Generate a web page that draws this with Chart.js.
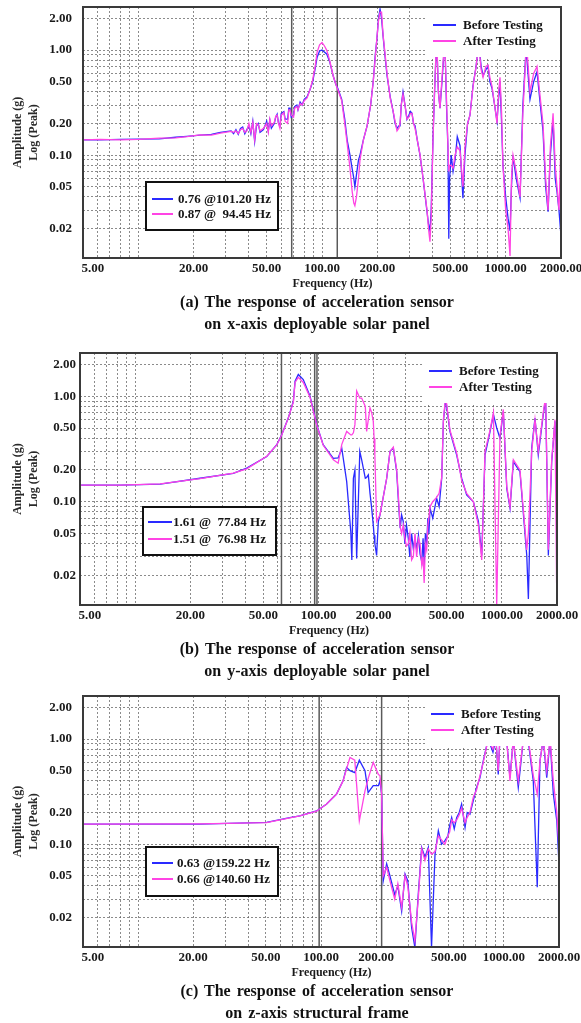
<!DOCTYPE html>
<html>
<head>
<meta charset="utf-8">
<script src="https://cdn.jsdelivr.net/npm/chart.js@4.4.1/dist/chart.umd.min.js"></script>
<style>
  html, body { margin: 0; padding: 0; background: #fff; }
  body { width: 581px; height: 1023px; position: relative; overflow: hidden; }
  canvas { position: absolute; left: 0; }
  .cap { position: absolute; left: 117px; width: 400px; text-align: center; font: bold 16px "Liberation Serif", serif; color: #111; word-spacing: 2px; white-space: nowrap; line-height: 20px; }
</style>
</head>
<body>
<canvas id="cA" width="581" height="295" style="top:0px"></canvas>
<div class="cap" style="top:292px">(a) The response of acceleration sensor</div>
<div class="cap" style="top:314px">on x-axis deployable solar panel</div>
<canvas id="cB" width="581" height="296" style="top:346px"></canvas>
<div class="cap" style="top:639px">(b) The response of acceleration sensor</div>
<div class="cap" style="top:661px">on y-axis deployable solar panel</div>
<canvas id="cC" width="581" height="295" style="top:689px"></canvas>
<div class="cap" style="top:981px">(c) The response of acceleration sensor</div>
<div class="cap" style="top:1003px">on z-axis structural frame</div>
<script>
/* frequency response, before / after testing (log-log) */

var xLabels = [5, 20, 50, 100, 200, 500, 1000, 2000];
var yLabels = [0.02, 0.05, 0.1, 0.2, 0.5, 1, 2];
var seriesNames = ["Before Testing", "After Testing"];

// (a) x-axis solar panel
var freqA = [5, 6.2, 8, 10, 13, 16, 18.4, 21.7, 25, 28,
  32, 33, 34, 35, 36, 37, 38, 39, 40, 41,
  42, 43, 44, 45, 46, 48, 50, 51, 52, 53,
  55, 56, 57, 58, 59, 60, 62, 63, 65, 66,
  67, 68, 70, 71, 73, 74, 76, 78, 80, 83,
  86, 89, 92, 94, 97, 100, 103, 106, 110, 115,
  119, 122, 128, 133, 137, 142, 146, 149, 151, 154,
  158, 161, 168, 176, 184, 190, 195, 199, 203, 207,
  211, 215, 220, 226, 235, 244, 250, 256, 262, 266,
  270, 276, 283, 290, 297, 303, 309, 315, 321, 330,
  342, 355, 373, 380, 387, 393, 402, 410, 418, 423,
  430, 439, 450, 462, 468, 476, 485, 490, 495, 505,
  517, 530, 545, 564, 585, 600, 620, 639, 664, 690,
  706, 720, 735, 753, 780, 801, 820, 843, 870, 897,
  915, 931, 950, 966, 1000, 1030, 1056, 1075, 1096, 1140,
  1197, 1240, 1290, 1306, 1356, 1420, 1481, 1530, 1596, 1650,
  1701, 1750, 1811, 1860, 1902, 1950, 1990, 2000];
var beforeA = [0.14, 0.14, 0.141, 0.142, 0.143, 0.148, 0.151, 0.155, 0.158, 0.165,
  0.17, 0.16, 0.175, 0.158, 0.18, 0.185, 0.16, 0.175, 0.19, 0.16,
  0.21, 0.135, 0.19, 0.2, 0.165, 0.175, 0.21, 0.17, 0.215, 0.18,
  0.2, 0.23, 0.245, 0.2, 0.19, 0.25, 0.26, 0.22, 0.22, 0.28,
  0.28, 0.23, 0.24, 0.29, 0.3, 0.27, 0.32, 0.3, 0.34, 0.36,
  0.42, 0.5, 0.68, 0.85, 0.98, 1.0, 0.96, 0.92, 0.78, 0.57,
  0.47, 0.43, 0.34, 0.22, 0.14, 0.1, 0.074, 0.06, 0.05, 0.065,
  0.09, 0.1, 0.14, 0.19, 0.3, 0.5, 0.9, 1.27, 2.0, 2.45,
  2.0, 1.36, 0.9, 0.57, 0.36, 0.26, 0.2, 0.18, 0.19, 0.19,
  0.3, 0.4, 0.3, 0.22, 0.24, 0.26, 0.25, 0.2, 0.19, 0.14,
  0.099, 0.06, 0.029, 0.022, 0.019, 0.03, 0.143, 0.4, 0.95, 1.0,
  0.4, 0.28, 0.5, 1.0, 1.0, 0.3, 0.115, 0.016, 0.06, 0.1,
  0.07, 0.09, 0.15, 0.123, 0.039, 0.1, 0.2, 0.24, 0.46, 0.7,
  1.0, 1.0, 0.7, 0.57, 0.65, 0.7, 0.5, 0.43, 0.3, 0.21,
  0.35, 0.5, 0.2, 0.08, 0.04, 0.025, 0.019, 0.05, 0.099, 0.06,
  0.039, 0.3, 1.0, 0.8, 0.34, 0.5, 0.62, 0.35, 0.17, 0.05,
  0.029, 0.1, 0.22, 0.06, 0.045, 0.03, 0.019, 0.05];
var afterA = [0.14, 0.141, 0.14, 0.141, 0.145, 0.146, 0.15, 0.156, 0.155, 0.162,
  0.168, 0.165, 0.17, 0.16, 0.175, 0.18, 0.165, 0.17, 0.2, 0.165,
  0.205, 0.14, 0.2, 0.195, 0.17, 0.18, 0.2, 0.165, 0.22, 0.19,
  0.205, 0.235, 0.24, 0.2, 0.18, 0.24, 0.255, 0.21, 0.2, 0.27,
  0.27, 0.24, 0.23, 0.28, 0.29, 0.27, 0.31, 0.3, 0.33, 0.35,
  0.42, 0.52, 0.72, 0.95, 1.12, 1.18, 1.1, 1.0, 0.8, 0.57,
  0.47, 0.42, 0.33, 0.2, 0.13, 0.075, 0.045, 0.035, 0.033, 0.04,
  0.06, 0.09, 0.14, 0.19, 0.3, 0.5, 0.85, 1.3, 1.9, 2.3,
  2.3, 1.4, 0.95, 0.6, 0.35, 0.26, 0.21, 0.17, 0.18, 0.2,
  0.3, 0.38, 0.3, 0.22, 0.23, 0.25, 0.25, 0.2, 0.18, 0.14,
  0.1, 0.06, 0.03, 0.02, 0.015, 0.025, 0.14, 0.42, 1.0, 1.05,
  0.4, 0.28, 0.55, 1.05, 0.95, 0.35, 0.12, 0.07, 0.08, 0.08,
  0.075, 0.1, 0.12, 0.11, 0.05, 0.12, 0.2, 0.24, 0.45, 0.7,
  1.0, 0.95, 0.65, 0.55, 0.7, 0.72, 0.55, 0.45, 0.3, 0.2,
  0.4, 0.55, 0.25, 0.08, 0.03, 0.02, 0.011, 0.06, 0.1, 0.07,
  0.04, 0.25, 0.95, 1.0, 0.4, 0.6, 0.7, 0.4, 0.2, 0.06,
  0.03, 0.12, 0.25, 0.08, 0.05, 0.03, 0.1, 0.045];

// (b) y-axis solar panel
var freqB = [5, 8.3, 13.7, 22.6, 34.3, 40.6, 52.2, 59.2, 63, 68.4,
  72.9, 74.5, 77.6, 82.6, 89.9, 97.8, 106, 120.5, 128, 134,
  142.5, 150, 152, 155, 158, 161.5, 168, 172, 180, 183,
  187, 191, 195, 199, 201, 203, 207.5, 212, 216.5, 235.5,
  245.5, 256, 267, 274, 279, 284, 290, 296, 302, 309,
  315, 322, 329, 336, 343, 351, 358, 366, 372, 377,
  383, 389, 395, 400, 406, 420, 441, 455, 470, 480,
  494, 521, 567, 604, 643, 700, 745, 777, 810, 863,
  900, 938, 977, 1019, 1064, 1109, 1156, 1256, 1368, 1396,
  1455, 1517, 1581, 1683, 1734, 1794, 1871, 1950, 1990];
var beforeB = [0.144, 0.144, 0.147, 0.167, 0.186, 0.208, 0.268, 0.347, 0.432, 0.621,
  0.896, 1.39, 1.61, 1.44, 1.0, 0.538, 0.347, 0.258, 0.26, 0.32,
  0.155, 0.052, 0.028, 0.167, 0.2, 0.029, 0.3, 0.25, 0.167, 0.17,
  0.18, 0.12, 0.087, 0.06, 0.048, 0.04, 0.031, 0.065, 0.075, 0.167,
  0.3, 0.322, 0.193, 0.09, 0.056, 0.075, 0.065, 0.04, 0.06, 0.045,
  0.03, 0.05, 0.036, 0.045, 0.035, 0.048, 0.032, 0.027, 0.045, 0.025,
  0.05, 0.039, 0.07, 0.05, 0.087, 0.07, 0.108, 0.09, 0.167, 0.578,
  0.95, 0.464, 0.278, 0.167, 0.116, 0.1, 0.065, 0.031, 0.278, 0.464,
  0.67, 0.5, 0.4, 0.72, 0.134, 0.087, 0.24, 0.193, 0.031, 0.012,
  0.322, 0.62, 0.278, 0.67, 0.95, 0.031, 0.24, 0.578, 0.2];
var afterB = [0.144, 0.144, 0.148, 0.166, 0.187, 0.205, 0.27, 0.345, 0.43, 0.62,
  0.88, 1.35, 1.51, 1.35, 0.98, 0.53, 0.345, 0.25, 0.232, 0.35,
  0.464, 0.43, 0.43, 0.45, 0.538, 1.12, 0.96, 0.96, 0.8, 0.464,
  0.6, 0.774, 0.7, 0.578, 0.4, 0.278, 0.065, 0.07, 0.075, 0.167,
  0.3, 0.33, 0.2, 0.1, 0.058, 0.05, 0.06, 0.045, 0.038, 0.04,
  0.05, 0.028, 0.03, 0.05, 0.03, 0.045, 0.04, 0.025, 0.03, 0.017,
  0.04, 0.035, 0.06, 0.07, 0.09, 0.1, 0.11, 0.12, 0.17, 0.6,
  1.0, 0.48, 0.29, 0.16, 0.12, 0.1, 0.06, 0.028, 0.3, 0.48,
  0.7, 0.0105, 0.42, 0.75, 0.14, 0.09, 0.25, 0.2, 0.035, 0.05,
  0.3, 0.6, 0.3, 0.7, 1.0, 0.035, 0.25, 0.6, 0.017];

// (c) z-axis structural frame
var freqC = [5, 21.7, 50.4, 67.5, 76.6, 94.6, 107, 121.6, 132, 138,
  144, 153, 162, 174, 181, 193, 206, 210, 214.5, 219,
  228.5, 238, 253, 263, 276, 288, 298, 313, 326, 340,
  355, 370, 386, 402, 420, 438, 456, 476, 494, 505,
  518, 535, 552, 570, 587, 613, 630, 652, 680, 709,
  740, 771, 820, 871, 904, 931, 950, 1034, 1079, 1125,
  1198, 1277, 1359, 1447, 1521, 1574, 1641, 1714, 1787, 1862,
  1945, 1995];
var beforeC = [0.155, 0.155, 0.161, 0.179, 0.186, 0.207, 0.24, 0.3, 0.4, 0.537,
  0.5, 0.48, 0.63, 0.5, 0.31, 0.36, 0.36, 0.4, 0.3, 0.045,
  0.065, 0.05, 0.033, 0.04, 0.023, 0.052, 0.045, 0.016, 0.0104, 0.033,
  0.093, 0.075, 0.093, 0.0104, 0.08, 0.134, 0.1, 0.108, 0.12, 0.15,
  0.179, 0.14, 0.179, 0.2, 0.24, 0.144, 0.2, 0.193, 0.26, 0.346,
  0.43, 0.62, 1.0, 0.75, 1.0, 0.46, 1.0, 1.0, 0.43, 1.0,
  0.346, 1.0, 0.95, 0.4, 0.039, 0.62, 1.0, 0.43, 1.0, 0.3,
  0.167, 0.07];
var afterC = [0.155, 0.156, 0.16, 0.178, 0.186, 0.206, 0.24, 0.3, 0.4, 0.52,
  0.668, 0.63, 0.167, 0.322, 0.42, 0.6, 0.46, 0.45, 0.3, 0.05,
  0.06, 0.045, 0.03, 0.042, 0.025, 0.05, 0.04, 0.018, 0.012, 0.03,
  0.09, 0.07, 0.09, 0.08, 0.085, 0.12, 0.11, 0.1, 0.12, 0.13,
  0.17, 0.16, 0.17, 0.19, 0.22, 0.16, 0.18, 0.2, 0.28, 0.33,
  0.45, 0.6, 1.0, 0.8, 1.0, 0.5, 1.0, 1.0, 0.4, 1.0,
  0.4, 1.0, 1.0, 0.45, 0.3, 0.62, 1.0, 0.5, 1.0, 0.4,
  0.2, 0.1];

// cursor lines (Hz) and peak readouts
var cursorsA = [68.4, 121.1];
var cursorsB = [62.8, 95.3, 98.1];
var cursorsC = [97.7, 214.5];
var peaksA = ["0.76 @101.20 Hz", "0.87 @  94.45 Hz"];
var peaksB = ["1.61 @  77.84 Hz", "1.51 @  76.98 Hz"];
var peaksC = ["0.63 @159.22 Hz", "0.66 @140.60 Hz"];

var BLUE = "#2a2aff", PINK = "#ff44e4";
var SERIF = "'Liberation Serif', 'Times New Roman', serif";

function gridValues(lo, hi) {
  var out = [];
  [0.01, 0.1, 1, 10, 100, 1000].forEach(function(d) {
    for (var m = 1; m <= 9; m++) {
      var v = +(d * m).toPrecision(6);
      if (v >= lo && v <= hi) out.push(v);
    }
  });
  return out;
}
var xGrid = gridValues(5, 2000);
var yGrid = gridValues(0.011, 2.5);

function isLabel(list, v) {
  for (var i = 0; i < list.length; i++) {
    if (Math.abs(v - list[i]) / list[i] < 1e-6) return true;
  }
  return false;
}

var decor = {
  id: "decor",
  beforeDatasetsDraw: function(ch, args, o) {
    var c = ch.ctx, a = ch.chartArea, xs = ch.scales.x;
    c.save();
    c.strokeStyle = "#5a5a5a";
    c.lineWidth = 1.5;
    o.cursors.forEach(function(f) {
      var x = xs.getPixelForValue(f);
      c.beginPath(); c.moveTo(x, a.top); c.lineTo(x, a.bottom); c.stroke();
    });
    c.restore();
  },
  afterDatasetsDraw: function(ch, args, o) {
    var c = ch.ctx, a = ch.chartArea, p = o.peak;
    var cols = [BLUE, PINK];
    c.save();

    // series legend, top right (white box hides the grid and clips peaks)
    c.fillStyle = "#fff";
    c.fillRect(a.right - 134, a.top, 134, 50);
    c.font = "bold 13px " + SERIF;
    c.textBaseline = "middle";
    c.textAlign = "left";
    [18, 34].forEach(function(dy, i) {
      c.strokeStyle = cols[i]; c.lineWidth = 2;
      c.beginPath(); c.moveTo(a.right - 128, a.top + dy); c.lineTo(a.right - 105, a.top + dy); c.stroke();
      c.fillStyle = "#151515";
      c.fillText(seriesNames[i], a.right - 98, a.top + dy + 1);
    });

    // peak readout box
    c.fillStyle = "#fff";
    c.fillRect(a.left + p.dx, a.top + p.dy, p.w, p.h);
    c.strokeStyle = "#111"; c.lineWidth = 2;
    c.strokeRect(a.left + p.dx, a.top + p.dy, p.w, p.h);
    p.rows.forEach(function(dy, i) {
      c.strokeStyle = cols[i]; c.lineWidth = 2;
      c.beginPath(); c.moveTo(a.left + p.l0, a.top + dy); c.lineTo(a.left + p.l1, a.top + dy); c.stroke();
      c.fillStyle = "#151515";
      c.fillText(o.peaks[i], a.left + p.tx, a.top + dy + 1);
    });

    // plot frame
    c.strokeStyle = "#3a3a3a"; c.lineWidth = 2;
    c.strokeRect(a.left, a.top, a.right - a.left, a.bottom - a.top);
    c.restore();
  }
};

function drawResponse(id, freq, before, after, cfg) {
  var ctx = document.getElementById(id);
  if (!ctx) return;

  var pts = function(vals) {
    return freq.map(function(f, i) { return { x: f, y: vals[i] }; });
  };

  return new Chart(ctx, {
    type: "line",
    data: {
      datasets: [{
        label: seriesNames[0],
        data: pts(before),
        borderColor: BLUE,
        borderWidth: 1.3,
        pointRadius: 0,
        tension: 0,
        order: 1
      }, {
        label: seriesNames[1],
        data: pts(after),
        borderColor: PINK,
        borderWidth: 1.3,
        pointRadius: 0,
        tension: 0,
        order: 0
      }]
    },
    options: {
      responsive: false,
      animation: false,
      events: [],
      layout: { padding: { left: 0, right: 581 - cfg.right, top: 7, bottom: 0 } },
      scales: {
        x: {
          type: "logarithmic",
          min: 5,
          max: 2000,
          afterBuildTicks: function(s) { s.ticks = xGrid.map(function(v) { return { value: v }; }); },
          afterFit: function(s) { s.height = 37; s.paddingLeft = 0; s.paddingRight = 0; },
          grid: { color: "rgba(90,90,90,.7)", lineWidth: 1, drawTicks: false },
          border: { display: false, dash: [2, 2] },
          ticks: {
            autoSkip: false,
            maxRotation: 0,
            padding: 3,
            color: "#1a1a1a",
            font: { family: SERIF, size: 13, weight: "bold" },
            callback: function(v) {
              if (!isLabel(xLabels, v)) return "";
              var s = v.toFixed(2);
              if (v === xLabels[0]) s = "      " + s;
              return s;
            }
          },
          title: {
            display: true,
            text: "       Frequency (Hz)",
            color: "#1a1a1a",
            font: { family: SERIF, size: 12, weight: "bold" },
            padding: { top: 0, bottom: 4 }
          }
        },
        y: {
          type: "logarithmic",
          min: 0.0105,
          max: 2.57,
          afterBuildTicks: function(s) { s.ticks = yGrid.map(function(v) { return { value: v }; }); },
          afterFit: function(s) { s.width = cfg.left; s.paddingTop = 0; s.paddingBottom = 0; },
          grid: { color: "rgba(90,90,90,.7)", lineWidth: 1, drawTicks: false },
          border: { display: false, dash: [2, 2] },
          ticks: {
            autoSkip: false,
            padding: cfg.tickPad,
            color: "#1a1a1a",
            font: { family: SERIF, size: 13, weight: "bold" },
            callback: function(v) { return isLabel(yLabels, v) ? v.toFixed(2) : ""; }
          },
          title: {
            display: true,
            text: ["Amplitude (g)", "Log (Peak)"],
            color: "#2a2a2a",
            font: { family: SERIF, size: 12, weight: "bold", lineHeight: 1.35 },
            padding: { top: 10, bottom: 0 }
          }
        }
      },
      plugins: {
        legend: { display: false },
        tooltip: { enabled: false },
        decor: { cursors: cfg.cursors, peaks: cfg.peaks, peak: cfg.peak }
      }
    },
    plugins: [decor]
  });
}

drawResponse("cA", freqA, beforeA, afterA, {
  left: 83, right: 561, tickPad: 11, cursors: cursorsA, peaks: peaksA,
  peak: { dx: 63, dy: 175, w: 132, h: 48, rows: [192, 207], l0: 69, l1: 90, tx: 95 }
});
drawResponse("cB", freqB, beforeB, afterB, {
  left: 80, right: 557, tickPad: 4, cursors: cursorsB, peaks: peaksB,
  peak: { dx: 63, dy: 154, w: 133, h: 48, rows: [169, 186], l0: 68, l1: 92, tx: 93 }
});
drawResponse("cC", freqC, beforeC, afterC, {
  left: 83, right: 559, tickPad: 11, cursors: cursorsC, peaks: peaksC,
  peak: { dx: 63, dy: 151, w: 132, h: 49, rows: [167, 183], l0: 69, l1: 90, tx: 94 }
});
</script>
</body>
</html>
